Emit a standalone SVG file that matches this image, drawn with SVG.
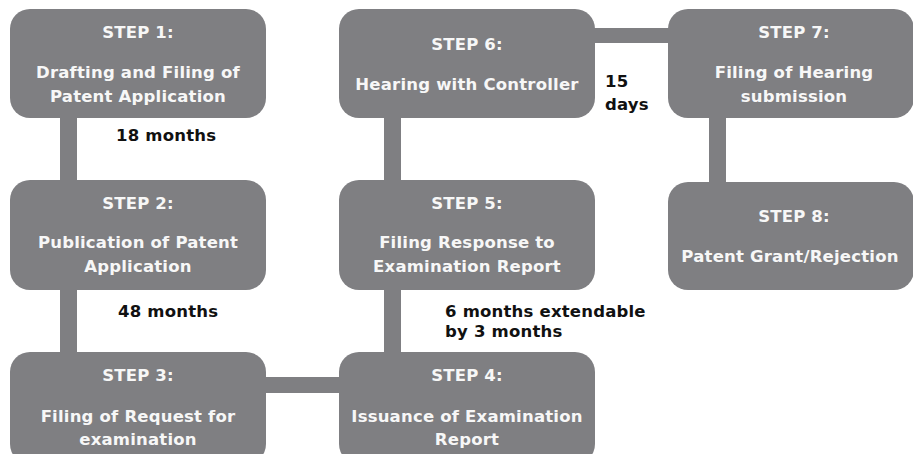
<svg xmlns="http://www.w3.org/2000/svg" width="913" height="454" viewBox="0 0 913 454">
  <style>
    .box { fill: #7f7f82; }
    .link { fill: #7f7f82; }
    .step { font-family: "DejaVu Sans", "Liberation Sans", sans-serif; font-weight: 700; font-size: 16.5px; letter-spacing: 0.2px; fill: #f7f7f7; text-anchor: middle; }
    .note { font-family: "DejaVu Sans", "Liberation Sans", sans-serif; font-weight: 700; font-size: 16.5px; letter-spacing: 0.2px; fill: #111111; }
  </style>
  <rect x="0" y="0" width="913" height="454" fill="#ffffff"/>

  <!-- connectors -->
  <g id="connectors">
    <rect class="link" x="60" y="110" width="17" height="78"/>
    <rect class="link" x="60" y="280" width="17" height="80"/>
    <rect class="link" x="256" y="377" width="94" height="16"/>
    <rect class="link" x="384" y="280" width="17" height="80"/>
    <rect class="link" x="384" y="110" width="17" height="78"/>
    <rect class="link" x="585" y="28" width="93" height="15"/>
    <rect class="link" x="709" y="110" width="17" height="80"/>
  </g>

  <g id="step1">
    <rect class="box" x="10" y="9" width="256" height="109" rx="20"/>
    <text class="step" x="138" y="38">STEP 1:</text>
    <text class="step" x="138" y="78">Drafting and Filing of</text>
    <text class="step" x="138" y="102">Patent Application</text>
  </g>

  <g id="step2">
    <rect class="box" x="10" y="180" width="256" height="110" rx="20"/>
    <text class="step" x="138" y="209">STEP 2:</text>
    <text class="step" x="138" y="248">Publication of Patent</text>
    <text class="step" x="138" y="272">Application</text>
  </g>

  <g id="step3">
    <rect class="box" x="10" y="352" width="256" height="112" rx="20"/>
    <text class="step" x="138" y="381">STEP 3:</text>
    <text class="step" x="138" y="422">Filing of Request for</text>
    <text class="step" x="138" y="445">examination</text>
  </g>

  <g id="step4">
    <rect class="box" x="339" y="352" width="256" height="112" rx="20"/>
    <text class="step" x="467" y="381">STEP 4:</text>
    <text class="step" x="467" y="422">Issuance of Examination</text>
    <text class="step" x="467" y="445">Report</text>
  </g>

  <g id="step5">
    <rect class="box" x="339" y="180" width="256" height="110" rx="20"/>
    <text class="step" x="467" y="209">STEP 5:</text>
    <text class="step" x="467" y="248">Filing Response to</text>
    <text class="step" x="467" y="272">Examination Report</text>
  </g>

  <g id="step6">
    <rect class="box" x="339" y="9" width="256" height="109" rx="20"/>
    <text class="step" x="467" y="50">STEP 6:</text>
    <text class="step" x="467" y="90">Hearing with Controller</text>
  </g>

  <g id="step7">
    <rect class="box" x="668" y="9" width="246" height="109" rx="20"/>
    <text class="step" x="794" y="38">STEP 7:</text>
    <text class="step" x="794" y="78">Filing of Hearing</text>
    <text class="step" x="794" y="102">submission</text>
  </g>

  <g id="step8">
    <rect class="box" x="668" y="182" width="246" height="108" rx="20"/>
    <text class="step" x="794" y="222">STEP 8:</text>
    <text class="step" x="790" y="262">Patent Grant/Rejection</text>
  </g>

  <!-- durations -->
  <g id="durations">
    <text class="note" x="116" y="141">18 months</text>
    <text class="note" x="118" y="317">48 months</text>
    <text class="note" x="445" y="317">6 months extendable</text>
    <text class="note" x="445" y="337">by 3 months</text>
    <text class="note" x="605" y="87">15</text>
    <text class="note" x="605" y="110">days</text>
  </g>
</svg>
